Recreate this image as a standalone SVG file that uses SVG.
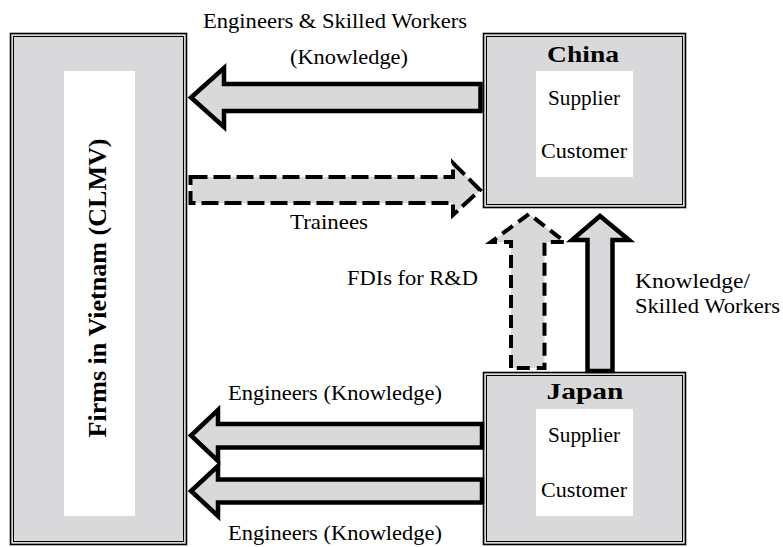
<svg xmlns="http://www.w3.org/2000/svg" width="783" height="547" viewBox="0 0 783 547" font-family="Liberation Serif, serif">
<style>
.box{fill:#d9d9db;stroke:#000;stroke-width:1.6}
.inner{fill:none;stroke:#000;stroke-width:1}
.white{fill:#fff;stroke:none}
.t{font-family:"Liberation Serif",serif;font-size:21px;fill:#000}
.b{font-family:"Liberation Serif",serif;font-size:23px;font-weight:bold;fill:#000}
.solid{fill:#d9d9db;stroke:#000;stroke-width:4.5;stroke-linejoin:miter;stroke-miterlimit:10}
.dash{fill:#d9d9db;stroke:#000;stroke-width:4;stroke-dasharray:17 6;stroke-linejoin:miter}
.dashv{fill:#d9d9db;stroke:#000;stroke-width:4;stroke-dasharray:13 7;stroke-linejoin:miter}
</style>
<rect width="783" height="547" fill="#fff"/>
<g id="firms">
<rect class="box" x="10.5" y="33.5" width="176" height="511"/>
<rect class="inner" x="13.5" y="36.5" width="170" height="505"/>
<rect class="white" x="64" y="71" width="71" height="445"/>
<text class="b" transform="translate(106,288) rotate(-90)" text-anchor="middle" style="font-size:26px" textLength="299" lengthAdjust="spacingAndGlyphs">Firms in Vietnam (CLMV)</text>
</g>
<g id="china">
<rect class="box" x="483.5" y="33.5" width="202" height="174"/>
<rect class="inner" x="486.5" y="36.5" width="196" height="168"/>
<rect class="white" x="536" y="71" width="97" height="106"/>
<text class="b" x="583" y="62" text-anchor="middle" textLength="72" lengthAdjust="spacingAndGlyphs">China</text>
<text class="t" x="584" y="105" text-anchor="middle" textLength="72" lengthAdjust="spacingAndGlyphs">Supplier</text>
<text class="t" x="584" y="158" text-anchor="middle" textLength="86" lengthAdjust="spacingAndGlyphs">Customer</text>
</g>
<g id="japan">
<rect class="box" x="483.5" y="372.5" width="202" height="172"/>
<rect class="inner" x="486.5" y="375.5" width="196" height="166"/>
<rect class="white" x="536" y="409" width="97" height="107"/>
<text class="b" x="585" y="399" text-anchor="middle" textLength="77" lengthAdjust="spacingAndGlyphs">Japan</text>
<text class="t" x="584" y="442" text-anchor="middle" textLength="72" lengthAdjust="spacingAndGlyphs">Supplier</text>
<text class="t" x="584" y="497" text-anchor="middle" textLength="86" lengthAdjust="spacingAndGlyphs">Customer</text>
</g>
<g id="connectors">
<polygon class="solid" points="480.5,84 224,84 224,68 191,97.5 224,127 224,111 480.5,111"/>
<polygon class="dash" points="190.5,177 453,177 453,163 480,190 453,215 453,203 190.5,203"/>
<polygon class="dashv" points="511,368 511,242 491,242 529,214 565,242 544.5,242 544.5,368"/>
<polygon class="solid" points="587.5,371 587.5,240 572,240 600,216 629,240 612.5,240 612.5,371"/>
<polygon class="solid" points="482,424 218,424 218,410 191,435.5 218,461 218,447.5 482,447.5"/>
<polygon class="solid" points="482,479.5 218,479.5 218,466 191,491 218,516 218,502.5 482,502.5"/>
</g>
<g id="labels">
<text class="t" x="335" y="28" text-anchor="middle" textLength="264" lengthAdjust="spacingAndGlyphs">Engineers &amp; Skilled Workers</text>
<text class="t" x="349" y="64" text-anchor="middle" textLength="118" lengthAdjust="spacingAndGlyphs">(Knowledge)</text>
<text class="t" x="329" y="229" text-anchor="middle" textLength="78" lengthAdjust="spacingAndGlyphs">Trainees</text>
<text class="t" x="478" y="285" text-anchor="end" textLength="131" lengthAdjust="spacingAndGlyphs">FDIs for R&amp;D</text>
<text class="t" x="635" y="288" textLength="115" lengthAdjust="spacingAndGlyphs">Knowledge/</text>
<text class="t" x="635" y="313" textLength="145" lengthAdjust="spacingAndGlyphs">Skilled Workers</text>
<text class="t" x="335" y="400" text-anchor="middle" textLength="214" lengthAdjust="spacingAndGlyphs">Engineers (Knowledge)</text>
<text class="t" x="335" y="540" text-anchor="middle" textLength="214" lengthAdjust="spacingAndGlyphs">Engineers (Knowledge)</text>
</g>
</svg>
